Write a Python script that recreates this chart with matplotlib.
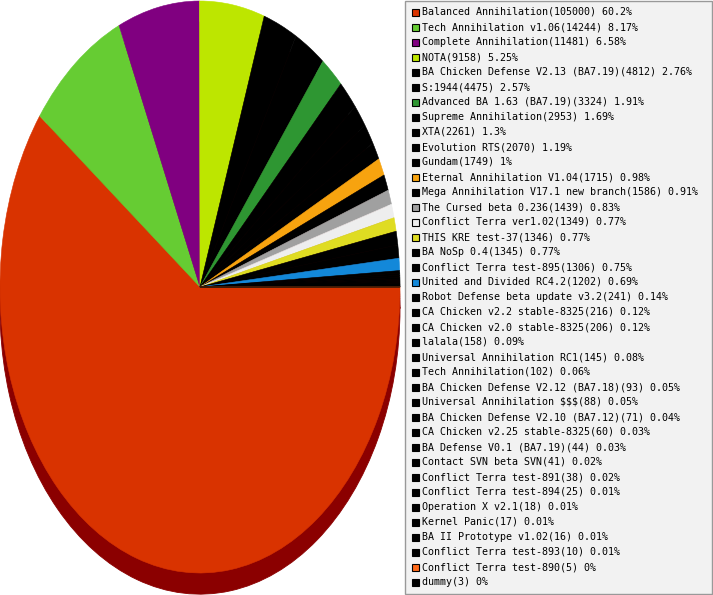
import numpy as np
import matplotlib
matplotlib.use("Agg")
import matplotlib.pyplot as plt
from matplotlib.patches import Rectangle

names = [
    "Balanced Annihilation", "Tech Annihilation v1.06", "Complete Annihilation", "NOTA",
    "BA Chicken Defense V2.13 (BA7.19)", "S:1944", "Advanced BA 1.63 (BA7.19)",
    "Supreme Annihilation", "XTA", "Evolution RTS", "Gundam", "Eternal Annihilation V1.04",
    "Mega Annihilation V17.1 new branch", "The Cursed beta 0.236", "Conflict Terra ver1.02",
    "THIS KRE test-37", "BA NoSp 0.4", "Conflict Terra test-895", "United and Divided RC4.2",
    "Robot Defense beta update v3.2", "CA Chicken v2.2 stable-8325", "CA Chicken v2.0 stable-8325",
    "lalala", "Universal Annihilation RC1", "Tech Annihilation", "BA Chicken Defense V2.12 (BA7.18)",
    "Universal Annihilation $$$", "BA Chicken Defense V2.10 (BA7.12)", "CA Chicken v2.25 stable-8325",
    "BA Defense V0.1 (BA7.19)", "Contact SVN beta SVN", "Conflict Terra test-891",
    "Conflict Terra test-894", "Operation X v2.1", "Kernel Panic", "BA II Prototype v1.02",
    "Conflict Terra test-893", "Conflict Terra test-890", "dummy",
]
counts = [105000, 14244, 11481, 9158, 4812, 4475, 3324, 2953, 2261, 2070, 1749, 1715, 1586,
          1439, 1349, 1346, 1345, 1306, 1202, 241, 216, 206, 158, 145, 102, 93, 88, 71, 60,
          44, 41, 38, 25, 18, 17, 16, 10, 5, 3]
pcts = ["60.2", "8.17", "6.58", "5.25", "2.76", "2.57", "1.91", "1.69", "1.3", "1.19", "1",
        "0.98", "0.91", "0.83", "0.77", "0.77", "0.77", "0.75", "0.69", "0.14", "0.12", "0.12",
        "0.09", "0.08", "0.06", "0.05", "0.05", "0.04", "0.03", "0.03", "0.02", "0.02", "0.01",
        "0.01", "0.01", "0.01", "0.01", "0", "0"]
colors = ["#d93300", "#66cc33", "#800080", "#bde600", "#000000", "#000000", "#2e9632",
          "#000000", "#000000", "#000000", "#000000", "#f7a30f", "#000000", "#a0a0a0",
          "#eeeeee", "#dfdc22", "#000000", "#000000", "#1388d9"] + ["#000000"] * 18 + \
         ["#ff6a1a", "#000000"]
shadow_color = "#8b0000"

W, H = 713, 595
fig = plt.figure(figsize=(W / 100, H / 100), dpi=100)

# pie, stretched into an ellipse; shadow drawn first, shifted down
ax = fig.add_axes([0, (H - 573) / H, 400 / W, 572 / H])
sw, _ = ax.pie(counts, colors=[shadow_color] * len(counts), startangle=0,
               counterclock=False, center=(0, -0.074), radius=1, frame=True)
pw, _ = ax.pie(counts, colors=colors, startangle=0, counterclock=False,
               radius=1, frame=True)
for w in sw:
    w.set_clip_on(False)
    w.set_edgecolor(shadow_color)
    w.set_linewidth(0.6)
for w in pw:
    w.set_clip_on(False)
    w.set_edgecolor(w.get_facecolor())
    w.set_linewidth(0.4)
ax.set_xlim(-1, 1)
ax.set_ylim(-1, 1)
ax.set_aspect("auto")
ax.axis("off")

# legend box in pixel coordinates
lx0 = 404
lax = fig.add_axes([lx0 / W, 0, (W - lx0) / W, 1])
lax.set_xlim(0, W - lx0)
lax.set_ylim(H, 0)
lax.axis("off")
lax.add_patch(Rectangle((0.5, 0.5), W - lx0 - 2, H - 2, facecolor="#f2f2f2",
                        edgecolor="#999999", linewidth=1))
for i, (n, c, p, col) in enumerate(zip(names, counts, pcts, colors)):
    y = 12 + 15 * i
    lax.add_patch(Rectangle((7.5, y - 3.5), 7, 7, facecolor=col, edgecolor="#000000",
                            linewidth=0.8))
    lax.text(18, y, f"{n}({c}) {p}%", fontsize=7.2, family="DejaVu Sans Mono",
             va="center", ha="left", color="#000000")

fig.savefig("out.png", dpi=100, facecolor="white")
